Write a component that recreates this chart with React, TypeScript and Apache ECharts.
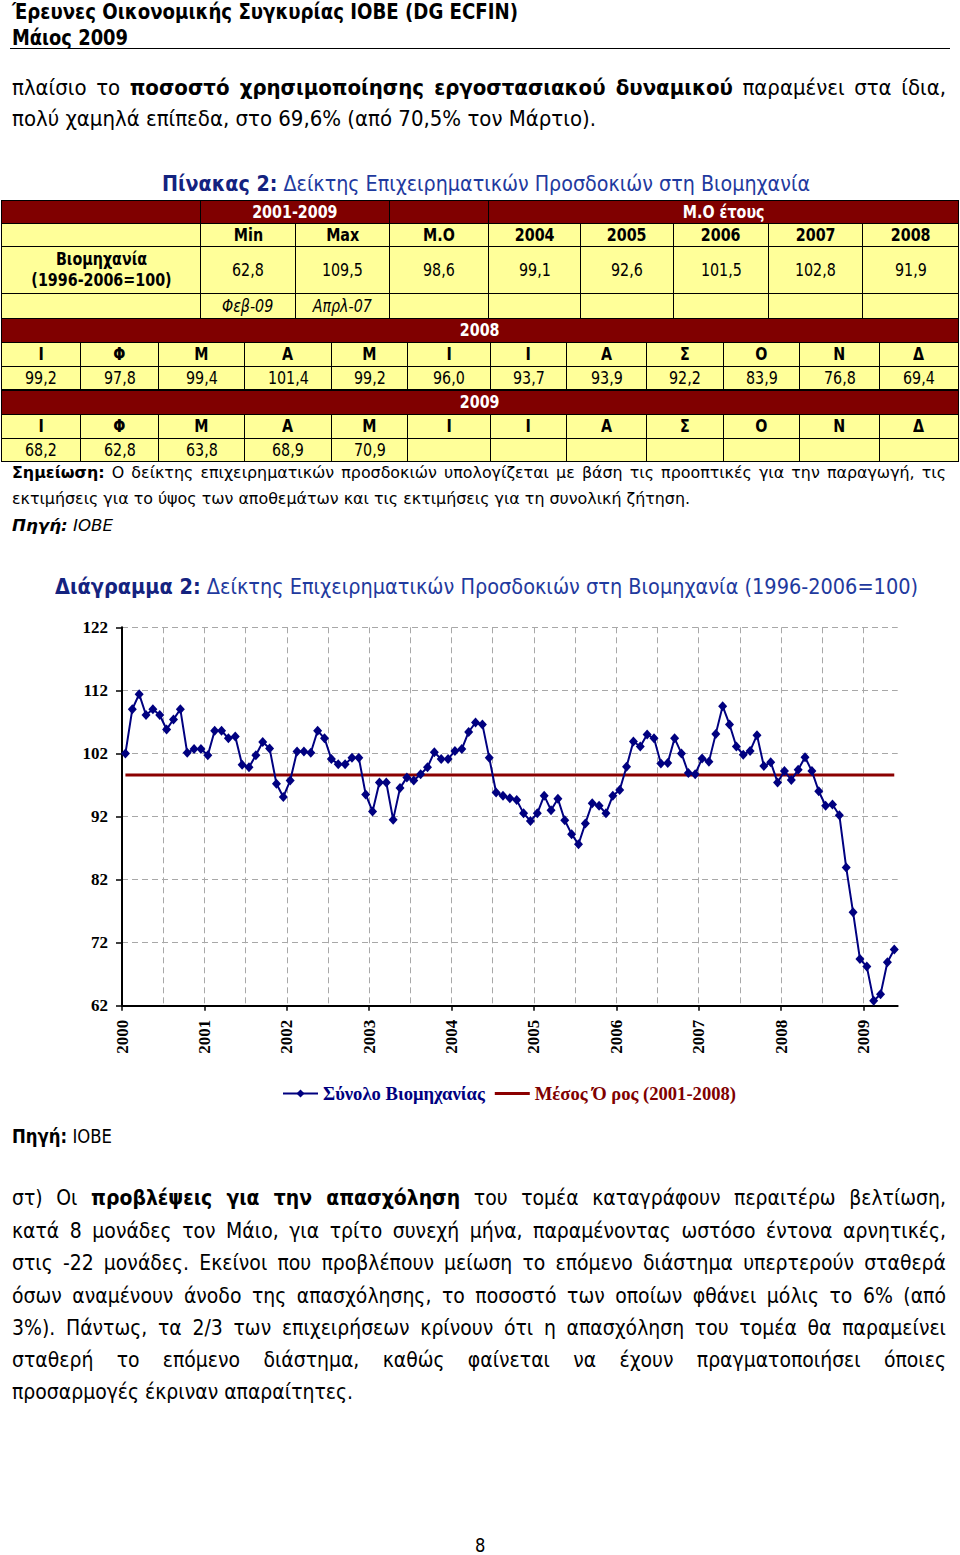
import React, { useEffect, useRef } from "react";
import * as echarts from "echarts";

// ---------------- data ----------------
const years = ["2000", "2001", "2002", "2003", "2004", "2005", "2006", "2007", "2008", "2009"];
const v2000 = [102.0, 109.0, 111.4, 108.1, 109.0, 108.1, 105.8, 107.4, 109.0, 102.1, 102.7, 102.7];
const v2001 = [101.7, 105.6, 105.6, 104.4, 104.7, 100.2, 99.8, 101.7, 103.8, 102.8, 97.2, 95.1];
const v2002 = [97.7, 102.3, 102.3, 102.1, 105.6, 104.4, 101.1, 100.3, 100.3, 101.3, 101.3, 95.5];
const v2003 = [92.8, 97.4, 97.4, 91.5, 96.5, 98.2, 97.7, 98.7, 99.8, 102.2, 101.1, 101.1];
const v2004 = [102.4, 102.7, 105.4, 106.9, 106.6, 101.3, 95.8, 95.3, 94.9, 94.6, 92.5, 91.3];
const v2005 = [92.5, 95.3, 93.0, 94.8, 91.4, 89.2, 87.6, 90.9, 94.1, 93.7, 92.5, 95.3];
const v2006 = [96.2, 99.9, 103.9, 103.1, 105.0, 104.4, 100.4, 100.5, 104.4, 102.0, 98.9, 98.7];
const v2007 = [101.2, 100.7, 105.1, 109.5, 106.6, 103.1, 101.8, 102.4, 104.9, 100.0, 100.6, 97.4];
const v2008 = [99.2, 97.8, 99.4, 101.4, 99.2, 96.0, 93.7, 93.9, 92.2, 83.9, 76.8, 69.4];
const v2009 = [68.2, 62.8, 63.8, 68.9, 70.9];
const avg2001_2008 = 98.6;
const yTicks = [62, 72, 82, 92, 102, 112, 122];

const seriesName = "Σύνολο Βιομηχανίας";
const avgName = "Μέσος Ό ρος (2001-2008)";

// table
const tblYears = ["2004", "2005", "2006", "2007", "2008"];
const tblYearAvg = [99.1, 92.6, 101.5, 102.8, 91.9];
const tblMin = 62.8;
const tblMax = 109.5;
const tblMean = 98.6;
const tblMinDate = "Φεβ-09";
const tblMaxDate = "Απρλ-07";
const monthLetters = ["Ι", "Φ", "Μ", "Α", "Μ", "Ι", "Ι", "Α", "Σ", "Ο", "Ν", "Δ"];

const allValues = [...v2000, ...v2001, ...v2002, ...v2003, ...v2004, ...v2005, ...v2006, ...v2007, ...v2008, ...v2009];
const nMonths = allValues.length;
const seriesData = allValues.map((v, i) => [i + 0.5, v]);
const avgData = allValues.map((_, i) => [i + 0.5, avg2001_2008]);
const yearStarts = years.map((_, k) => k * 12);

const fmt = (v: number) => v.toFixed(1).replace(".", ",");

// ---------------- text helpers ----------------
const FONT = '"DejaVu Sans", Verdana, sans-serif';
type Seg = { t: string; b?: boolean; i?: boolean; c?: string };
let mctx: CanvasRenderingContext2D | null = null;
function measureSegs(segs: Seg[], size: number) {
  if (!mctx) mctx = document.createElement("canvas").getContext("2d");
  let w = 0;
  for (const s of segs) {
    mctx!.font = `${s.i ? "italic " : ""}${s.b ? "bold " : ""}${size}px "DejaVu Sans"`;
    w += mctx!.measureText(s.t).width;
  }
  return w;
}

function TextLine(props: {
  segs: Seg[];
  x?: number;
  base: number;
  size: number;
  tw?: number;
  mode: "fit" | "justify" | "scale";
  smax?: number;
  color?: string;
  center?: number;
}) {
  const { segs, base, size, mode, color = "#000" } = props;
  const smax = props.smax ?? 0.86;
  const w0 = measureSegs(segs, size);
  let sc = smax;
  let width = w0 + 4;
  if (mode === "fit") sc = (props.tw as number) / w0;
  if (mode === "justify") {
    sc = Math.min(smax, (props.tw as number) / (w0 + 1));
    width = (props.tw as number) / sc;
  }
  const left = props.center !== undefined ? props.center - (w0 * sc) / 2 : props.x ?? 12;
  const lh = size * 1.2;
  const style: any = {
    position: "absolute",
    left,
    top: base - 0.946 * size,
    width,
    height: lh,
    lineHeight: `${lh}px`,
    fontSize: size,
    fontFamily: FONT,
    color,
    whiteSpace: "nowrap",
    transform: `scaleX(${sc})`,
    transformOrigin: "0 0",
    textAlign: mode === "justify" ? "justify" : "left",
    textAlignLast: mode === "justify" ? "justify" : "left",
  };
  return (
    <div style={style}>
      {segs.map((s, k) => (
        <span key={k} style={{ fontWeight: s.b ? "bold" : "normal", fontStyle: s.i ? "italic" : "normal", color: s.c }}>
          {s.t}
        </span>
      ))}
    </div>
  );
}

const YELLOW = "#ffff99";
const MAROON = "#800000";

function Cell(props: {
  x0: number;
  x1: number;
  y0: number;
  y1: number;
  bg: string;
  children?: React.ReactNode;
  bold?: boolean;
  italic?: boolean;
  color?: string;
  size?: number;
}) {
  const { x0, x1, y0, y1, bg, children, bold, italic, color = "#000", size = 17 } = props;
  return (
    <div
      style={{
        position: "absolute",
        left: x0,
        top: y0,
        width: x1 - x0 + 1,
        height: y1 - y0 + 1,
        boxSizing: "border-box",
        border: "1px solid #000",
        background: bg,
        display: "flex",
        alignItems: "center",
        justifyContent: "center",
        fontFamily: FONT,
        fontSize: size,
        fontWeight: bold ? "bold" : "normal",
        fontStyle: italic ? "italic" : "normal",
        color,
        whiteSpace: "nowrap",
        overflow: "visible",
      }}
    >
      {children !== undefined && (
        <span style={{ display: "inline-block", transform: "scaleX(0.84)", textAlign: "center", lineHeight: "21px" }}>
          {children}
        </span>
      )}
    </div>
  );
}

function Table() {
  const tc = [1, 200, 295, 389, 488, 580, 673, 768, 862, 958];
  const tr = [200, 223, 246, 293, 318];
  const mc = [1, 80, 158, 244, 331, 407, 490, 566, 646, 723, 799, 879, 958];
  const cells: React.ReactNode[] = [];
  let k = 0;
  // row 1
  cells.push(<Cell key={k++} x0={tc[0]} x1={tc[1]} y0={tr[0]} y1={tr[1]} bg={MAROON} />);
  cells.push(<Cell key={k++} x0={tc[1]} x1={tc[3]} y0={tr[0]} y1={tr[1]} bg={MAROON} bold color="#fff">2001-2009</Cell>);
  cells.push(<Cell key={k++} x0={tc[3]} x1={tc[4]} y0={tr[0]} y1={tr[1]} bg={MAROON} />);
  cells.push(<Cell key={k++} x0={tc[4]} x1={tc[9]} y0={tr[0]} y1={tr[1]} bg={MAROON} bold color="#fff">Μ.Ο έτους</Cell>);
  // row 2
  const heads = ["", "Min", "Max", "Μ.Ο", ...tblYears];
  heads.forEach((h, i) =>
    cells.push(
      <Cell key={k++} x0={tc[i]} x1={tc[i + 1]} y0={tr[1]} y1={tr[2]} bg={YELLOW} bold>
        {h === "" ? undefined : h}
      </Cell>
    )
  );
  // row 3
  cells.push(
    <Cell key={k++} x0={tc[0]} x1={tc[1]} y0={tr[2]} y1={tr[3]} bg={YELLOW} bold>
      <span style={{ display: "block" }}>Βιομηχανία</span>
      <span style={{ display: "block" }}>(1996-2006=100)</span>
    </Cell>
  );
  const vals = [tblMin, tblMax, tblMean, ...tblYearAvg];
  vals.forEach((v, i) =>
    cells.push(
      <Cell key={k++} x0={tc[i + 1]} x1={tc[i + 2]} y0={tr[2]} y1={tr[3]} bg={YELLOW}>
        {fmt(v)}
      </Cell>
    )
  );
  // row 4
  const r4 = ["", tblMinDate, tblMaxDate, "", "", "", "", "", ""];
  r4.forEach((h, i) =>
    cells.push(
      <Cell key={k++} x0={tc[i]} x1={tc[i + 1]} y0={tr[3]} y1={tr[4]} bg={YELLOW} italic>
        {h === "" ? undefined : h}
      </Cell>
    )
  );
  // monthly blocks
  const blocks: [string, number[], number][] = [
    ["2008", v2008, 318],
    ["2009", v2009, 390],
  ];
  blocks.forEach(([yr, arr, y]) => {
    cells.push(<Cell key={k++} x0={1} x1={958} y0={y} y1={y + 24} bg={MAROON} bold color="#fff">{yr}</Cell>);
    monthLetters.forEach((m, i) =>
      cells.push(
        <Cell key={k++} x0={mc[i]} x1={mc[i + 1]} y0={y + 24} y1={y + 48} bg={YELLOW} bold>
          {m}
        </Cell>
      )
    );
    monthLetters.forEach((_, i) =>
      cells.push(
        <Cell key={k++} x0={mc[i]} x1={mc[i + 1]} y0={y + 48} y1={y + 71} bg={YELLOW}>
          {i < arr.length ? fmt(arr[i]) : undefined}
        </Cell>
      )
    );
  });
  return <>{cells}</>;
}

// ---------------- chart ----------------
function Chart() {
  const ref = useRef<HTMLDivElement>(null);
  useEffect(() => {
    const chart = echarts.init(ref.current!, null, { renderer: "svg" });
    const serif = '"Liberation Serif", "Times New Roman", serif';
    const gridLine = { color: "#a8a8a8", width: 1, type: [6, 4] as any };
    chart.setOption({
      animation: false,
      grid: { left: 122, top: 27.3, width: 775.7, height: 378.4, outerBoundsMode: "none", containLabel: false },
      xAxis: [
        {
          type: "value",
          min: 0,
          max: nMonths,
          interval: 12,
          axisLine: { show: true, onZero: false, lineStyle: { color: "#000", width: 2 } },
          axisTick: { show: true, length: 5, lineStyle: { color: "#000", width: 1.5 }, customValues: yearStarts },
          axisLabel: {
            customValues: yearStarts,
            rotate: 90,
            margin: 14,
            fontFamily: serif,
            fontWeight: "bold",
            fontSize: 17,
            color: "#000",
            formatter: (v: number) => (v % 12 === 0 && v / 12 < years.length ? years[v / 12] : ""),
          },
          splitLine: { show: false },
        },
        {
          type: "value",
          min: 0,
          max: nMonths,
          interval: 6,
          position: "bottom",
          axisLine: { show: false },
          axisTick: { show: false },
          axisLabel: { show: false },
          splitLine: { show: true, showMinLine: false, showMaxLine: false, lineStyle: gridLine },
        },
      ],
      yAxis: {
        type: "value",
        min: yTicks[0],
        max: yTicks[yTicks.length - 1],
        interval: 10,
        axisLine: { show: true, onZero: false, lineStyle: { color: "#000", width: 2 } },
        axisTick: { show: true, length: 6, lineStyle: { color: "#000", width: 1.5 } },
        axisLabel: { margin: 14, fontFamily: serif, fontWeight: "bold", fontSize: 17, color: "#000" },
        splitLine: { show: true, showMinLine: false, lineStyle: gridLine },
      },
      legend: {
        left: 277,
        top: 479,
        itemWidth: 35,
        itemHeight: 10,
        itemGap: 10,
        symbolKeepAspect: true,
        textStyle: { fontFamily: serif, fontWeight: "bold", fontSize: 18.6 },
        data: [
          { name: seriesName, textStyle: { color: "#000080" } },
          { name: avgName, icon: "path://M0,0 L40,0 L40,3.2 L0,3.2 Z", textStyle: { color: MAROON } },
        ],
      },
      series: [
        {
          name: avgName,
          type: "line",
          data: avgData,
          symbol: "none",
          lineStyle: { color: "#8b0000", width: 3 },
          itemStyle: { color: "#8b0000" },
          z: 2,
        },
        {
          name: seriesName,
          type: "line",
          data: seriesData,
          symbol: "diamond",
          symbolSize: [9, 10],
          showAllSymbol: true,
          lineStyle: { color: "#000080", width: 2 },
          itemStyle: { color: "#000080" },
          z: 3,
        },
      ],
    });
    return () => chart.dispose();
  }, []);
  return <div ref={ref} style={{ position: "absolute", left: 0, top: 600, width: 960, height: 520 }} />;
}

// ---------------- page ----------------
export default function App() {
  const navy = "#14237f";
  const blue = "#1f3a9e";
  const bodyL2: Seg[] = [{ t: "πολύ χαμηλά επίπεδα, στο 69,6% (από 70,5% τον Μάρτιο)." }];
  const bodyScale = 584 / measureSegs(bodyL2, 21);
  const paraL7: Seg[] = [{ t: "προσαρμογές έκριναν απαραίτητες." }];
  const paraScale = 341 / measureSegs(paraL7, 21);
  const noteL2: Seg[] = [{ t: "εκτιμήσεις για το ύψος των αποθεμάτων και τις εκτιμήσεις για τη συνολική ζήτηση." }];
  const noteScale = 678 / measureSegs(noteL2, 16);
  const para: Seg[][] = [
    [{ t: "στ) Οι " }, { t: "προβλέψεις για την απασχόληση", b: true }, { t: " του τομέα καταγράφουν περαιτέρω βελτίωση," }],
    [{ t: "κατά 8 μονάδες τον Μάιο, για τρίτο συνεχή μήνα, παραμένοντας ωστόσο έντονα αρνητικές," }],
    [{ t: "στις -22 μονάδες. Εκείνοι που προβλέπουν μείωση το επόμενο διάστημα υπερτερούν σταθερά" }],
    [{ t: "όσων αναμένουν άνοδο της απασχόλησης, το ποσοστό των οποίων φθάνει μόλις το 6% (από" }],
    [{ t: "3%). Πάντως, τα 2/3 των επιχειρήσεων κρίνουν ότι η απασχόληση του τομέα θα παραμείνει" }],
    [{ t: "σταθερή το επόμενο διάστημα, καθώς φαίνεται να έχουν πραγματοποιήσει όποιες" }],
  ];
  const paraBase = [1206, 1238.5, 1271, 1303.5, 1336, 1368.3];
  return (
    <div style={{ position: "absolute", left: 0, top: 0, width: 960, height: 1555, background: "#fff", overflow: "hidden" }}>
      <TextLine segs={[{ t: "Έρευνες Οικονομικής Συγκυρίας ΙΟΒΕ (DG ECFIN)", b: true }]} x={12} base={20} size={22} mode="fit" tw={506} />
      <TextLine segs={[{ t: "Μάιος 2009", b: true }]} x={12} base={45.5} size={22} mode="fit" tw={116} />
      <div style={{ position: "absolute", left: 10, top: 47.5, width: 940, height: 1.5, background: "#000" }} />

      <TextLine
        segs={[{ t: "πλαίσιο το " }, { t: "ποσοστό χρησιμοποίησης εργοστασιακού δυναμικού", b: true }, { t: " παραμένει στα ίδια," }]}
        x={12}
        base={96}
        size={21}
        mode="justify"
        tw={934}
        smax={bodyScale}
      />
      <TextLine segs={bodyL2} x={12} base={127} size={21} mode="fit" tw={584} />

      <TextLine
        segs={[{ t: "Πίνακας 2:", b: true, c: navy }, { t: " Δείκτης Επιχειρηματικών Προσδοκιών στη Βιομηχανία", c: blue }]}
        x={162}
        base={192}
        size={21}
        mode="fit"
        tw={648}
      />

      <Table />

      <TextLine
        segs={[{ t: "Σημείωση:", b: true }, { t: " Ο δείκτης επιχειρηματικών προσδοκιών υπολογίζεται με βάση τις προοπτικές για την παραγωγή, τις" }]}
        x={12}
        base={478}
        size={16}
        mode="justify"
        tw={934}
        smax={noteScale}
      />
      <TextLine segs={noteL2} x={12} base={504} size={16} mode="fit" tw={678} />
      <TextLine segs={[{ t: "Πηγή:", b: true, i: true }, { t: " ΙΟΒΕ", i: true }]} x={12} base={531} size={16} mode="fit" tw={101} />

      <TextLine
        segs={[
          { t: "Διάγραμμα 2:", b: true, c: navy },
          { t: " Δείκτης Επιχειρηματικών Προσδοκιών στη Βιομηχανία (1996-2006=100)", c: blue },
        ]}
        x={55}
        base={595}
        size={21}
        mode="fit"
        tw={863}
      />

      <Chart />

      <TextLine segs={[{ t: "Πηγή:", b: true }, { t: " ΙΟΒΕ" }]} x={12} base={1143} size={19} mode="fit" tw={100} />

      {para.map((segs, i) => (
        <TextLine key={i} segs={segs} x={12} base={paraBase[i]} size={21} mode="justify" tw={934} smax={paraScale} />
      ))}
      <TextLine segs={paraL7} x={12} base={1400} size={21} mode="fit" tw={341} />

      <TextLine segs={[{ t: "8" }]} center={480} base={1552} size={19} mode="scale" smax={0.86} />
    </div>
  );
}
